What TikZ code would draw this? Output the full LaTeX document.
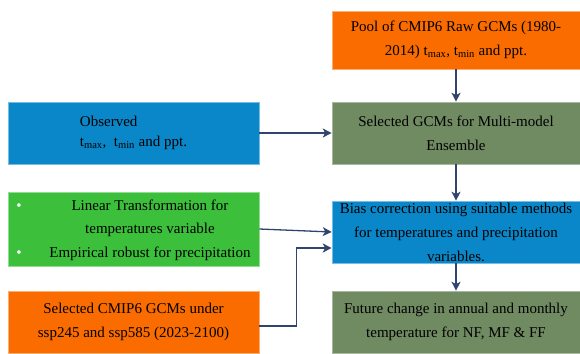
\documentclass[tikz,border=0pt]{standalone}
\usepackage{fontspec}
\setmainfont{Liberation Serif}
\usepackage{xcolor}
\usetikzlibrary{arrows.meta}
\definecolor{gcmorange}{RGB}{250,108,0}
\definecolor{gcmgreen}{RGB}{112,138,98}
\definecolor{gcmblue}{RGB}{10,135,200}
\definecolor{gcmlime}{RGB}{60,192,60}
\definecolor{gcmarrow}{RGB}{48,68,110}

\begin{document}
\begin{tikzpicture}[x=1pt,y=-1pt,
    box/.style={shape=rectangle, inner sep=0pt, align=center, line width=0.6pt,
      font=\fontsize{15}{24}\selectfont},
    rightbox/.style={box, minimum width=248pt, minimum height=62pt},
    leftbox/.style={box, minimum width=251pt, minimum height=62pt},
    link/.style={draw=gcmarrow, line width=1.3pt,
      -{Stealth[length=9pt,width=9pt,inset=2.5pt]}}]
    \useasboundingbox (0,0) rectangle (580,353);

    % right column
    \node[rightbox, minimum height=58pt, fill=gcmorange, draw=gcmorange!55!white] (pool) at (456,40)
      {Pool of CMIP6 Raw GCMs (1980-\\2014) t\textsubscript{max}, t\textsubscript{min} and ppt.};
    \node[rightbox, fill=gcmgreen, draw=gcmgreen!60!white] (sel) at (456,133)
      {Selected GCMs for Multi-model\\Ensemble};
    \node[rightbox, fill=gcmblue, draw=gcmblue!55!white] (bias) at (456,232)
      {Bias correction using suitable methods\\for temperatures and precipitation\\variables.};
    \node[rightbox, fill=gcmgreen, draw=gcmgreen!60!white] (fut) at (456,322)
      {Future change in annual and monthly\\temperature for NF, MF \& FF};

    % left column
    \node[leftbox, align=left, font=\fontsize{15}{20}\selectfont, fill=gcmblue, draw=gcmblue!55!white] (obs) at (133.5,133)
      {Observed\\t\textsubscript{max},\ \ t\textsubscript{min} and ppt.};
    \node[leftbox, minimum height=74pt, font=\fontsize{15}{23.5}\selectfont, fill=gcmlime, draw=gcmlime!55!white] (meth) at (133.5,229)
      {\begin{tabular}{@{}p{33pt}@{}c@{}}
        \textcolor{white}{\textbullet} & Linear Transformation for\\
         & temperatures variable\\
        \textcolor{white}{\textbullet} & Empirical robust for precipitation
      \end{tabular}};
    \node[leftbox, fill=gcmorange, draw=gcmorange!55!white] (ssp) at (133.5,322)
      {Selected CMIP6 GCMs under\\ssp245 and ssp585 (2023-2100)};

    \draw[link] (pool) -- (sel);
    \draw[link] (obs) -- (sel);
    \draw[link] (sel) -- (bias);
    \draw[link] (meth.east) -- (bias.west);
    \draw[link] ([yshift=-4pt]ssp.east) -- ++(37,0) |- ([yshift=-16pt]bias.west);
    \draw[link] (bias) -- (fut);
  \end{tikzpicture}
\end{document}
